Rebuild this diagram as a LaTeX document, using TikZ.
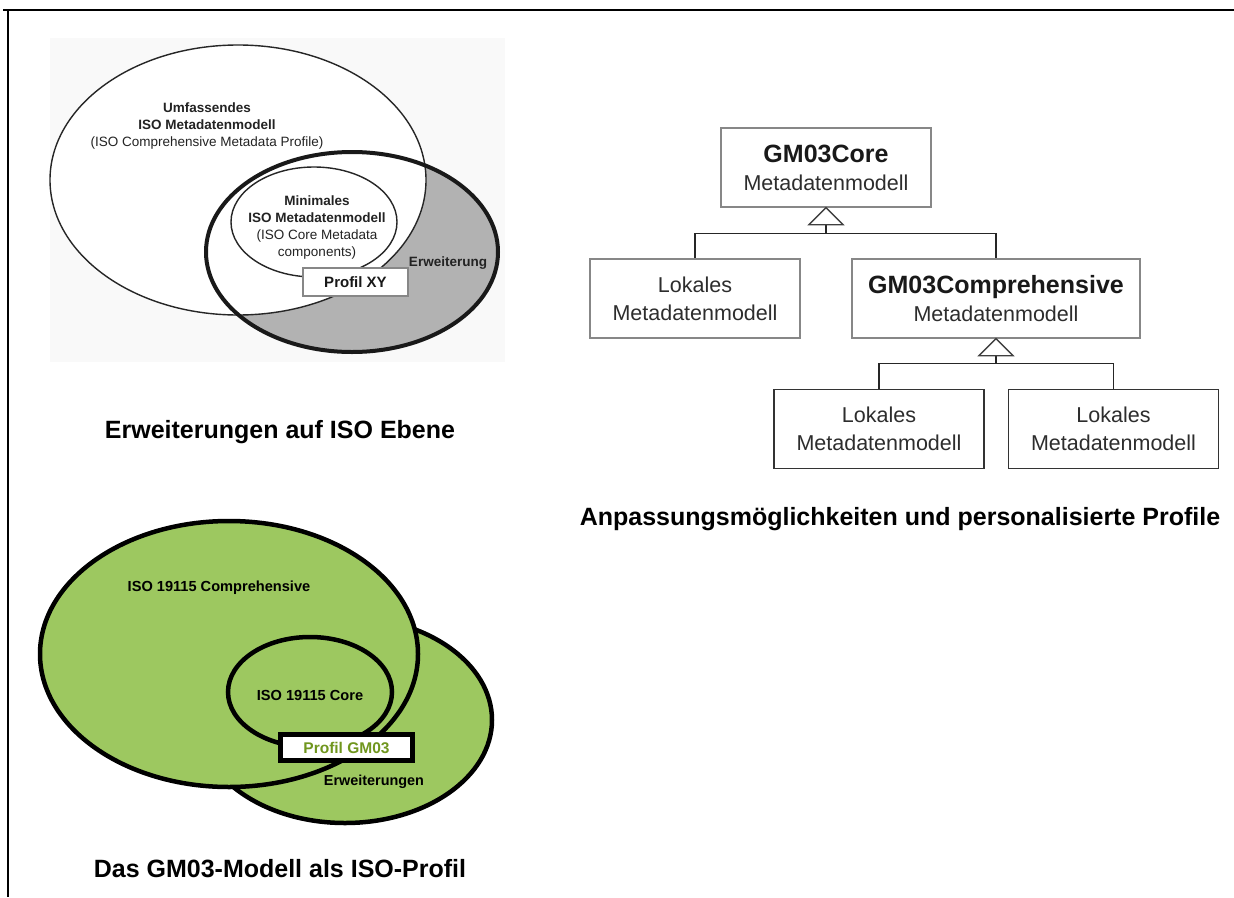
\documentclass[tikz,border=0pt]{standalone}
\usepackage{fontspec}
\setmainfont{Liberation Sans}
\usetikzlibrary{calc}
\definecolor{vgreen}{RGB}{157,200,96}
\definecolor{tgreen}{RGB}{112,150,30}
\definecolor{extgray}{RGB}{178,178,178}
\definecolor{boxgray}{RGB}{135,135,135}
\definecolor{txt}{RGB}{35,35,35}
\definecolor{umltxt}{RGB}{45,45,45}
\definecolor{bgfaint}{RGB}{249,249,249}
\begin{document}
\begin{tikzpicture}[x=1pt,y=-1pt,
  frame/.style={line width=2.2pt,black},
  thinell/.style={line width=1.4pt,black!85},
  thickell/.style={line width=4pt,black!90},
  gmell/.style={line width=4.5pt,black,fill=vgreen},
  vtxt/.style={font=\fontsize{13.5}{17}\selectfont,text=txt,align=center,inner sep=0pt},
  gtxt/.style={font=\fontsize{14.6}{17}\selectfont\bfseries,text=black,align=center,inner sep=0pt},
  caption/.style={font=\fontsize{25}{30}\selectfont\bfseries,text=black,inner sep=0pt},
  umlbox/.style={draw=boxgray,line width=1.3pt,fill=white,minimum width=210pt,minimum height=79pt,inner sep=0pt,align=center,text=umltxt,font=\fontsize{21.5}{28}\selectfont},
  umlboxdark/.style={umlbox,draw=black!80},
  conn/.style={line width=1.4pt,black!85},
  tri/.style={line width=1.3pt,black!75,fill=white}
]
\useasboundingbox (0,0) rectangle (1234,897);
% outer frame
\draw[frame] (3,10) -- (1234,10);
\draw[frame] (8,10) -- (8,897);

% ---------- top-left Venn ----------
\fill[bgfaint] (50,38) rectangle (505,362);
\fill[extgray] (352,252) ellipse [x radius=146, y radius=100];
\fill[white] (238,180) ellipse [x radius=188, y radius=135];
\draw[thinell] (238,180) ellipse [x radius=188, y radius=135];
\draw[thickell] (352,252) ellipse [x radius=146, y radius=100];
\draw[thinell] (314,222) ellipse [x radius=83, y radius=55];
\node[vtxt] (umf) at (207,126) {{\bfseries Umfassendes}\\{\bfseries ISO Metadatenmodell}\\(ISO Comprehensive Metadata Profile)};
\node[vtxt] (mini) at (317,228) {{\bfseries Minimales}\\{\bfseries ISO Metadatenmodell}\\(ISO Core Metadata\\components)};
\node[vtxt,font=\fontsize{13.5}{17}\selectfont\bfseries] (erw) at (448,263) {Erweiterung};
\node[draw=boxgray,line width=1.2pt,fill=white,minimum width=105pt,minimum height=28pt,inner sep=0pt,
      font=\fontsize{15}{18}\selectfont\bfseries,text=black!90] (pxy) at (355.5,282) {Profil XY};
\node[caption] (cap1) at (280,432) {Erweiterungen auf ISO Ebene};

% ---------- bottom-left Venn ----------
\draw[gmell] (345,720) ellipse [x radius=147, y radius=103];
\draw[gmell] (229,654) ellipse [x radius=189, y radius=133];
\draw[line width=4.5pt,black] (310,692) ellipse [x radius=82, y radius=55];
\node[gtxt] (comp) at (219,588) {ISO 19115 Comprehensive};
\node[gtxt] (corev) at (310,695) {ISO 19115 Core};
\node[draw=black,line width=5pt,fill=white,minimum width=132pt,minimum height=26pt,inner sep=0pt,
      font=\fontsize{15.5}{18}\selectfont\bfseries,text=tgreen] (pgm) at (346.5,747.5) {Profil GM03};
\node[gtxt,font=\fontsize{14.4}{17}\selectfont\bfseries] (erwg) at (374,782) {Erweiterungen};
\node[caption] (cap3) at (280,869) {Das GM03-Modell als ISO-Profil};

% ---------- right UML diagram ----------
\node[umlbox] (core) at (826,167.5) {{\fontsize{25}{28}\selectfont\bfseries\color{black!90}GM03Core}\\Metadatenmodell};
\node[umlbox] (lok1) at (695,298.5) {Lokales\\Metadatenmodell};
\node[umlbox,minimum width=288pt] (gcomp) at (996,298.5) {{\fontsize{25}{28}\selectfont\bfseries\color{black!90}GM03Comprehensive}\\Metadatenmodell};
\node[umlboxdark] (lok2) at (879,429) {Lokales\\Metadatenmodell};
\node[umlboxdark] (lok3) at (1113.5,429) {Lokales\\Metadatenmodell};

\coordinate (t1) at ($(core.south)+(0,17)$);
\coordinate (b1) at ($(t1)+(0,9)$);
\draw[conn] (t1) -- (b1);
\draw[conn] (b1) -| (lok1.north);
\draw[conn] (b1) -| (gcomp.north);
\draw[tri] (core.south) -- ($(core.south)+(-17,17)$) -- ($(core.south)+(17,17)$) -- cycle;

\coordinate (t2) at ($(gcomp.south)+(0,17)$);
\coordinate (b2) at ($(t2)+(0,8)$);
\draw[conn] (t2) -- (b2);
\draw[conn] (b2) -| (lok2.north);
\draw[conn] (b2) -| (lok3.north);
\draw[tri] (gcomp.south) -- ($(gcomp.south)+(-17,17)$) -- ($(gcomp.south)+(17,17)$) -- cycle;

\node[caption] (cap2) at (900,519) {Anpassungsmöglichkeiten und personalisierte Profile};
\end{tikzpicture}
\end{document}
